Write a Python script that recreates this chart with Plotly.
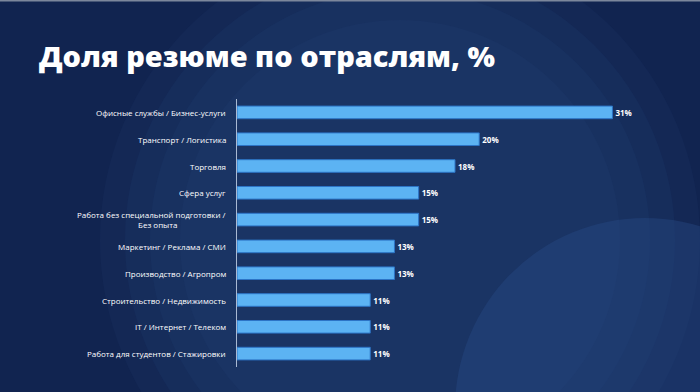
import plotly.graph_objects as go

categories = [
    "Офисные службы / Бизнес-услуги",
    "Транспорт / Логистика",
    "Торговля",
    "Сфера услуг",
    "Работа без специальной подготовки /<br>Без опыта",
    "Маркетинг / Реклама / СМИ",
    "Производство / Агропром",
    "Строительство / Недвижимость",
    "IT / Интернет / Телеком",
    "Работа для студентов / Стажировки",
]
values = [31, 20, 18, 15, 15, 13, 13, 11, 11, 11]
title_text = "Доля резюме по отраслям, %"

W, H = 700, 392
L, R, T, B = 237, 27, 99, 25
PW, PH = W - L - R, H - T - B


def px(X):
    return (X - L) / PW


def py(Y):
    return (H - B - Y) / PH


label_font = dict(family="Open Sans", size=8, color="white")

fig = go.Figure()
fig.add_trace(go.Bar(
    x=values,
    y=categories,
    orientation="h",
    marker=dict(color="#5cb3f3", line=dict(color="#2c74c6", width=1)),
    text=[f"<b>{v}%</b>" for v in values],
    textposition="outside",
    textfont=dict(family="Open Sans", size=8, color="white"),
    cliponaxis=False,
    hoverinfo="skip",
))

annotations = []
for c in categories:
    lines = c.split("<br>")
    if len(lines) == 1:
        annotations.append(dict(
            x=0, y=c, xref="x", yref="y", text=c, showarrow=False,
            xanchor="right", yanchor="middle", xshift=-9, font=label_font))
    else:
        # first line right-aligned to the axis, second centred under it
        annotations.append(dict(
            x=0, y=c, xref="x", yref="y", text=lines[0], showarrow=False,
            xanchor="right", yanchor="middle", xshift=-9, yshift=5,
            font=label_font))
        annotations.append(dict(
            x=px(157), y=c, xref="paper", yref="y", text=lines[1],
            showarrow=False, xanchor="center", yanchor="middle", yshift=-5,
            font=label_font))

shapes = []
# soft lighter glow behind the chart (concentric discs for a gradient)
for r, a in [(300, 0.10), (275, 0.12), (250, 0.12), (220, 0.10)]:
    shapes.append(dict(
        type="circle", xref="paper", yref="paper", layer="below",
        x0=px(400 - r), x1=px(400 + r), y0=py(240 + r), y1=py(240 - r),
        fillcolor=f"rgba(45,80,140,{a})", line=dict(width=0)))
# bottom-right blob
shapes.append(dict(
    type="circle", xref="paper", yref="paper", layer="below",
    x0=px(455), x1=px(835), y0=py(600), y1=py(218),
    fillcolor="rgba(40,75,135,0.40)", line=dict(width=0)))
# thin top border
shapes.append(dict(
    type="rect", xref="paper", yref="paper", layer="above",
    x0=px(0), x1=px(W), y0=py(1.5), y1=py(0),
    fillcolor="#7c879c", line=dict(width=0)))

fig.update_layout(
    width=W, height=H,
    margin=dict(l=L, r=R, t=T, b=B),
    paper_bgcolor="#112450",
    plot_bgcolor="rgba(0,0,0,0)",
    showlegend=False,
    bargap=0.53,
    title=dict(
        text=title_text,
        x=39 / W, xanchor="left", xref="container",
        y=1 - 57 / H, yanchor="middle", yref="container",
        font=dict(family="Open Sans", size=29, color="white", weight=800),
    ),
    xaxis=dict(range=[0, 36], visible=False, fixedrange=True),
    yaxis=dict(
        autorange="reversed", showticklabels=False, showgrid=False,
        zeroline=False, showline=True, linecolor="#a9b9d3", linewidth=1,
        ticks="", fixedrange=True,
    ),
    annotations=annotations,
    shapes=shapes,
)

fig.write_html(
    "out.html",
    config={"displayModeBar": False, "staticPlot": True},
    post_script="document.body.style.margin='0';document.body.style.background='#112450';",
)
